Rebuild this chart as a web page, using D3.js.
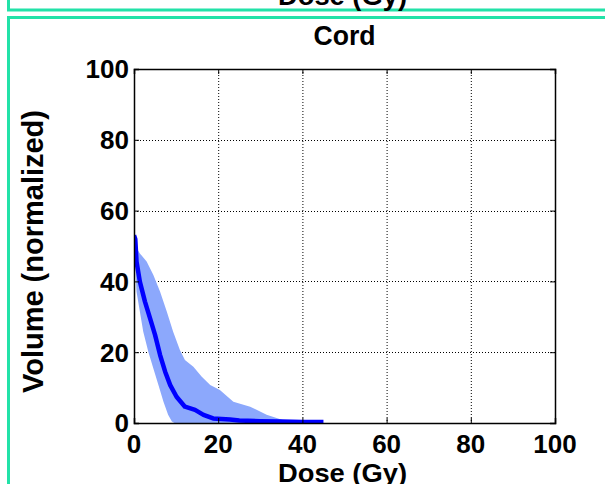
<!DOCTYPE html>
<html>
<head>
<meta charset="utf-8">
<script src="https://cdn.jsdelivr.net/npm/d3@7"></script>
<style>
  html, body { margin: 0; padding: 0; background: #fff; }
  svg { display: block; }
  text { font-family: "Liberation Sans", Arial, sans-serif; font-weight: bold; fill: #000; }
</style>
</head>
<body>
<svg id="chart" width="605" height="484"></svg>
<script>
// ---- data ----
const title = "Cord";
const xLabel = "Dose (Gy)";
const yLabel = "Volume (normalized)";
const xTicks = [0, 20, 40, 60, 80, 100];
const yTicks = [0, 20, 40, 60, 80, 100];

// mean DVH curve
const meanDose = [0, 0.3, 0.6, 1.4, 2.6, 3.8, 5.0, 6.2, 7.4, 8.6, 10.1, 12.1, 14.5, 16.5, 18.8, 22.8, 25, 30, 35, 40, 45];
const meanVol  = [53, 52, 45.6, 39.9, 34.3, 29.6, 24.9, 19.2, 14.5, 10.7, 7.4, 4.6, 3.7, 2.3, 1.3, 1.0, 0.7, 0.5, 0.4, 0.3, 0.3];

// upper edge of the spread band
const upperDose = [0, 0.3, 1.4, 3.0, 4.6, 6.2, 7.8, 9.3, 10.9, 12.1, 14.1, 16.1, 18.1, 20.4, 23.6, 27.6, 31.5, 35.5, 37, 38];
const upperVol  = [53, 50, 47.9, 45.6, 41.8, 37.1, 31.4, 25.8, 20.6, 17.8, 15.9, 13.1, 10.7, 9.3, 6.0, 4.6, 2.3, 0.8, 0.4, 0];

// lower edge of the spread band
const lowerDose = [0, 0.2, 0.6, 1.4, 2.2, 3.4, 4.6, 5.8, 7.0, 8.1, 9.0, 9.6];
const lowerVol  = [53, 47.5, 37.1, 31.4, 25.8, 20.1, 15.4, 10.7, 6.0, 2.3, 0.4, 0];

// ---- layout ----
const svg = d3.select("#chart");
const W = 605, H = 484;
const mL = 134, mR = 555, mT = 69, mB = 423;
const teal = "#22e2a8";

svg.append("rect").attr("width", W).attr("height", H).attr("fill", "#fff");

const x = d3.scaleLinear().domain([0, 100]).range([mL, mR]);
const y = d3.scaleLinear().domain([0, 100]).range([mB, mT]);

// panel frames (teal)
svg.append("path")
  .attr("d", `M8.5,0 V10 H${W + 5}`)
  .attr("fill", "none").attr("stroke", teal).attr("stroke-width", 3);
svg.append("path")
  .attr("d", `M8.5,${H + 5} V17.5 H${W + 5}`)
  .attr("fill", "none").attr("stroke", teal).attr("stroke-width", 3);

// label of the panel above (only its lower part shows, as in the reference)
svg.append("text")
  .attr("x", 342.5).attr("y", 5)
  .attr("text-anchor", "middle")
  .attr("font-size", 27)
  .attr("textLength", 129).attr("lengthAdjust", "spacingAndGlyphs")
  .text(xLabel);

// clip
svg.append("clipPath").attr("id", "plotclip")
  .append("rect").attr("x", mL).attr("y", mT)
  .attr("width", mR - mL).attr("height", mB - mT);

// grid
const grid = svg.append("g");
grid.selectAll("line.gx").data(xTicks.filter(d => d > 0 && d < 100)).enter()
  .append("line")
  .attr("x1", d => x(d) + 0.5).attr("x2", d => x(d) + 0.5)
  .attr("y1", mT).attr("y2", mB)
  .attr("stroke", "#000").attr("stroke-width", 1).attr("stroke-dasharray", "1,2");
grid.selectAll("line.gy").data(yTicks.filter(d => d > 0 && d < 100)).enter()
  .append("line")
  .attr("y1", d => Math.round(y(d)) + 0.5).attr("y2", d => Math.round(y(d)) + 0.5)
  .attr("x1", mL).attr("x2", mR)
  .attr("stroke", "#000").attr("stroke-width", 1).attr("stroke-dasharray", "1,2");

// band
const bandPts = upperDose.map((d, i) => [d, upperVol[i]])
  .concat([[lowerDose[lowerDose.length - 1], 0]])
  .concat(lowerDose.map((d, i) => [d, lowerVol[i]]).reverse());
svg.append("path")
  .datum(bandPts)
  .attr("clip-path", "url(#plotclip)")
  .attr("d", d3.line().x(p => x(p[0])).y(p => y(p[1])).curve(d3.curveLinearClosed))
  .attr("fill", "#8ca8fc").attr("stroke", "none");

// mean line
svg.append("path")
  .datum(meanDose.map((d, i) => [d, meanVol[i]]))
  .attr("clip-path", "url(#plotclip)")
  .attr("d", d3.line().x(p => x(p[0])).y(p => y(p[1])))
  .attr("fill", "none").attr("stroke", "#0000ff").attr("stroke-width", 4.5)
  .attr("stroke-linejoin", "round");

// axes box
const xAxisB = d3.axisBottom(x).tickValues(xTicks).tickSize(-5).tickFormat("");
const xAxisT = d3.axisTop(x).tickValues(xTicks).tickSize(-5).tickFormat("");
const yAxisL = d3.axisLeft(y).tickValues(yTicks).tickSize(-5).tickFormat("");
const yAxisR = d3.axisRight(y).tickValues(yTicks).tickSize(-5).tickFormat("");
function styleAxis(g) {
  g.selectAll("path.domain").attr("stroke", "#000").attr("stroke-width", 1.5);
  g.selectAll(".tick line").attr("stroke", "#000").attr("stroke-width", 1);
}
svg.append("g").attr("transform", `translate(0,${mB})`).call(xAxisB).call(styleAxis);
svg.append("g").attr("transform", `translate(0,${mT})`).call(xAxisT).call(styleAxis);
svg.append("g").attr("transform", `translate(${mL},0)`).call(yAxisL).call(styleAxis);
svg.append("g").attr("transform", `translate(${mR},0)`).call(yAxisR).call(styleAxis);

// tick labels
svg.append("g").selectAll("text").data(xTicks).enter().append("text")
  .attr("x", d => x(d)).attr("y", 453)
  .attr("text-anchor", "middle").attr("font-size", 26)
  .text(d => d);
svg.append("g").selectAll("text").data(yTicks).enter().append("text")
  .attr("x", 129).attr("y", d => y(d) + 9.3)
  .attr("text-anchor", "end").attr("font-size", 26)
  .text(d => d);

// title
svg.append("text")
  .attr("x", (mL + mR) / 2).attr("y", 45)
  .attr("text-anchor", "middle").attr("font-size", 27)
  .attr("textLength", 62).attr("lengthAdjust", "spacingAndGlyphs")
  .text(title);

// x label
svg.append("text")
  .attr("x", 342.5).attr("y", 482)
  .attr("text-anchor", "middle").attr("font-size", 26)
  .attr("textLength", 129).attr("lengthAdjust", "spacingAndGlyphs")
  .text(xLabel);

// y label
svg.append("text")
  .attr("transform", `translate(43,251.5) rotate(-90)`)
  .attr("text-anchor", "middle").attr("font-size", 29)
  .attr("textLength", 283).attr("lengthAdjust", "spacingAndGlyphs")
  .text(yLabel);
</script>
</body>
</html>
